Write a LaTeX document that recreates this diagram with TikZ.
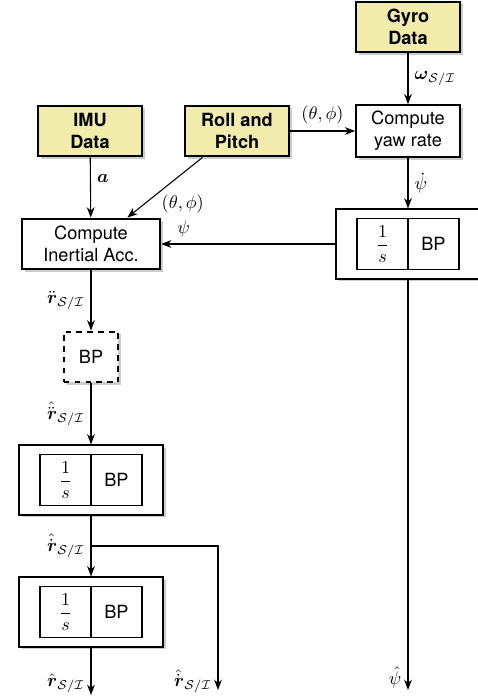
\documentclass[tikz,border=0pt]{standalone}
\usepackage{amsmath,amssymb}
\usepackage{fontspec}
\setsansfont{TeX Gyre Heros}
\usetikzlibrary{arrows.meta,shadows}
\definecolor{datayellow}{RGB}{241,236,172}

\begin{document}
\begin{tikzpicture}[>=Stealth,x=0.55pt,y=-0.55pt,font=\sffamily,
  box/.style={draw,line width=1.1pt,fill=white,align=center,minimum height=28pt,
    drop shadow={fill=black!45,opacity=0.45,shadow xshift=1.6pt,shadow yshift=-1.6pt}},
  data/.style={box,fill=datayellow,font=\sffamily\bfseries,minimum width=57pt},
  calcbox/.style={box,minimum width=57pt},
  intbox/.style={box,minimum width=79pt,minimum height=38pt},
  half/.style={draw,line width=0.9pt,minimum width=28pt,minimum height=28pt,inner sep=0pt,outer sep=0pt},
  sig/.style={->,semithick}]
  \useasboundingbox (0,0) rectangle (477,696);

  \node[data] (gyro) at (408,27) {Gyro\\Data};
  \node[calcbox] (yaw) at (408,131) {Compute\\yaw rate};
  \node[data] (imu) at (90,131) {IMU\\Data};
  \node[data] (roll) at (237,131) {Roll and\\Pitch};
  \node[box,minimum width=76pt] (acc) at (91,244) {Compute\\Inertial Acc.};
  \node[box,dashed,minimum width=30pt] (bp) at (91,357) {BP};
  \foreach \nm/\px/\py in {int1/91/480,int2/91/612,int3/408/244}{
    \node[intbox] (\nm) at (\px,\py) {};
    \node[half,anchor=east] (\nm s) at (\nm.center) {$\dfrac{1}{s}$};
    \node[half,anchor=west] (\nm bp) at (\nm.center) {BP};
  }

  \coordinate (br) at (91,546);
  \coordinate (out1) at (91,695);
  \coordinate (out2) at (218,690);
  \coordinate (out3) at (408,690);

  \draw[sig] (gyro) -- node[right]{$\boldsymbol{\omega}_{\mathcal{S}/\mathcal{I}}$} (yaw);
  \draw[sig] (roll) -- node[above]{$(\theta,\phi)$} (yaw);
  \draw[sig] (yaw) -- node[right]{$\dot{\psi}$} (int3);
  \draw[sig] (imu) -- node[right,pos=0.35]{$\boldsymbol{a}$} (acc);
  \draw[sig] ([xshift=-19pt]roll.south) -- node[pos=0.8,right,xshift=7pt,yshift=1pt]{$(\theta,\phi)$} ([xshift=20pt]acc.north);
  \draw[sig] (int3) -- node[above,pos=0.87]{$\psi$} (acc);
  \draw[sig] (acc) -- node[left]{$\ddot{\boldsymbol{r}}_{\mathcal{S}/\mathcal{I}}$} (bp);
  \draw[sig] (bp) -- node[left]{$\hat{\ddot{\boldsymbol{r}}}_{\mathcal{S}/\mathcal{I}}$} (int1);
  \draw[sig] (int1) -- node[left]{$\hat{\dot{\boldsymbol{r}}}_{\mathcal{S}/\mathcal{I}}$} (int2);
  \draw[sig] (br) -| node[pos=0.97,left]{$\hat{\dot{\boldsymbol{r}}}_{\mathcal{S}/\mathcal{I}}$} (out2);
  \draw[sig] (int2) -- node[left,pos=0.75]{$\hat{\boldsymbol{r}}_{\mathcal{S}/\mathcal{I}}$} (out1);
  \draw[sig] (int3) -- node[left,pos=0.97]{$\hat{\psi}$} (out3);
\end{tikzpicture}
\end{document}
